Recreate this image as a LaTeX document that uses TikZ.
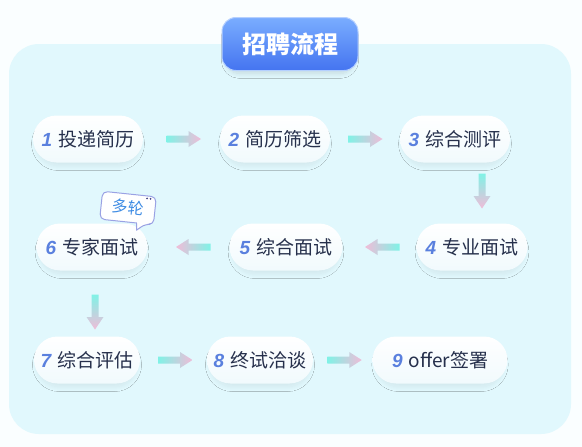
\documentclass[tikz,border=0pt]{standalone}
\usepackage{fontspec}
\setmainfont{Noto Sans CJK SC}
\newfontfamily\numf{Liberation Sans}
\usetikzlibrary{calc,shadows.blur}
\definecolor{bgc}{HTML}{FAFEFF}
\definecolor{panel}{HTML}{E1F8FD}
\definecolor{txt}{HTML}{26304C}
\definecolor{numc}{HTML}{5A80DE}
\definecolor{acyan}{HTML}{80F2E6}
\definecolor{apink}{HTML}{F0BCD8}
\definecolor{nodebot}{HTML}{F1FAFD}
\definecolor{tblue1}{HTML}{7AADFF}
\definecolor{tblue2}{HTML}{4474F0}
\definecolor{tbord}{HTML}{B5D0FF}
\definecolor{badgec}{HTML}{3E8CE4}
\definecolor{bbord}{HTML}{9AA2E4}
\definecolor{bdot}{HTML}{4A4C8C}
\newcommand\sn[2]{{\numf\bfseries\itshape\color{numc}#1}\hspace{6pt}#2}
\newcommand\arrR[1]{\path[left color=acyan,right color=apink,shift={(#1)}]
  (-17,-3.5) -- (5,-3.5) -- (5,-8) -- (17.5,0) -- (5,8) -- (5,3.5) -- (-17,3.5) -- cycle;}
\newcommand\arrL[1]{\path[left color=apink,right color=acyan,shift={(#1)}]
  (17,-3.5) -- (-5,-3.5) -- (-5,-8) -- (-17.5,0) -- (-5,8) -- (-5,3.5) -- (17,3.5) -- cycle;}
\newcommand\arrD[1]{\path[top color=acyan,bottom color=apink,shift={(#1)}]
  (-3.5,-17.5) -- (-3.5,5) -- (-8.5,5) -- (0,17.5) -- (8.5,5) -- (3.5,5) -- (3.5,-17.5) -- cycle;}
\tikzset{
  stepnode/.style={rounded corners=23.5pt, minimum height=47pt, inner sep=0pt,
    top color=white, bottom color=nodebot, text=txt,
    font=\fontsize{19}{22}\selectfont,
    blur shadow={shadow xshift=0pt, shadow yshift=-5pt, shadow scale=0.94,
      shadow opacity=7, shadow blur steps=10, shadow blur radius=5pt}},
  titlebox/.style={rounded corners=14pt, minimum width=136pt, minimum height=53pt,
    top color=tblue1, bottom color=tblue2, draw=tbord, line width=1pt,
    text=white, font=\fontsize{24}{27}\selectfont\bfseries,
    blur shadow={shadow xshift=0pt, shadow yshift=-5pt, shadow scale=0.94,
      shadow opacity=12, shadow blur steps=10, shadow blur radius=5pt}},
}
\begin{document}
\begin{tikzpicture}[x=1pt,y=-1pt]
\useasboundingbox (0,0) rectangle (582,447);
\fill[bgc] (0,0) rectangle (582,447);
\fill[panel, rounded corners=30pt] (9,44) rectangle (571,434);

\node[titlebox] (title) at (290,44) {招聘流程};

\node[stepnode, minimum width=110pt] (n1) at (88,139) {\sn{1}{投递简历}};
\node[stepnode, minimum width=110pt] (n2) at (275,139) {\sn{2}{简历筛选}};
\node[stepnode, minimum width=110pt] (n3) at (455,139) {\sn{3}{综合测评}};
\node[stepnode, minimum width=111pt] (n4) at (472,247) {\sn{4}{专业面试}};
\node[stepnode, minimum width=113pt] (n5) at (286,247) {\sn{5}{综合面试}};
\node[stepnode, minimum width=111pt] (n6) at (92,247) {\sn{6}{专家面试}};
\node[stepnode, minimum width=106pt] (n7) at (87,360) {\sn{7}{综合评估}};
\node[stepnode, minimum width=106pt] (n8) at (260,360) {\sn{8}{终试洽谈}};
\node[stepnode, minimum width=135pt] (n9) at (440,360) {\sn{9}{offer签署}};

\coordinate (a12) at ($(n1.east)!0.5!(n2.west)+(2,0)$);
\coordinate (a23) at ($(n2.east)!0.5!(n3.west)$);
\coordinate (a34) at ($(n3.south)!0.5!(n4.north)+(18.5,-2)$);
\coordinate (a45) at ($(n4.west)!0.5!(n5.east)+(3,0)$);
\coordinate (a56) at ($(n5.west)!0.5!(n6.east)+(5,0)$);
\coordinate (a67) at ($(n6.south)!0.5!(n7.north)+(5.5,8.5)$);
\coordinate (a78) at ($(n7.east)!0.5!(n8.west)+(1.5,0)$);
\coordinate (a89) at ($(n8.east)!0.5!(n9.west)+(1.5,0)$);
\arrR{a12}
\arrR{a23}
\arrD{a34}
\arrL{a45}
\arrL{a56}
\arrD{a67}
\arrR{a78}
\arrR{a89}

% badge
\begin{scope}[shift={(128,208)}, rotate=-6]
  \path[draw=bbord, line width=1pt, fill=white, rounded corners=5pt]
    (-27,-14) -- (27,-14) -- (27,14) -- (19,14) [sharp corners] -- (11,21) -- (10,14)
    [rounded corners=5pt] -- (-27,14) -- cycle;
  \fill[bdot] (18,-11.5) circle (1pt) (21.5,-11.5) circle (1pt);
\end{scope}
\node[rotate=-6, text=badgec, font=\fontsize{16}{18}\selectfont, inner sep=0pt] (badge) at (128,207) {多轮};
\end{tikzpicture}
\end{document}
